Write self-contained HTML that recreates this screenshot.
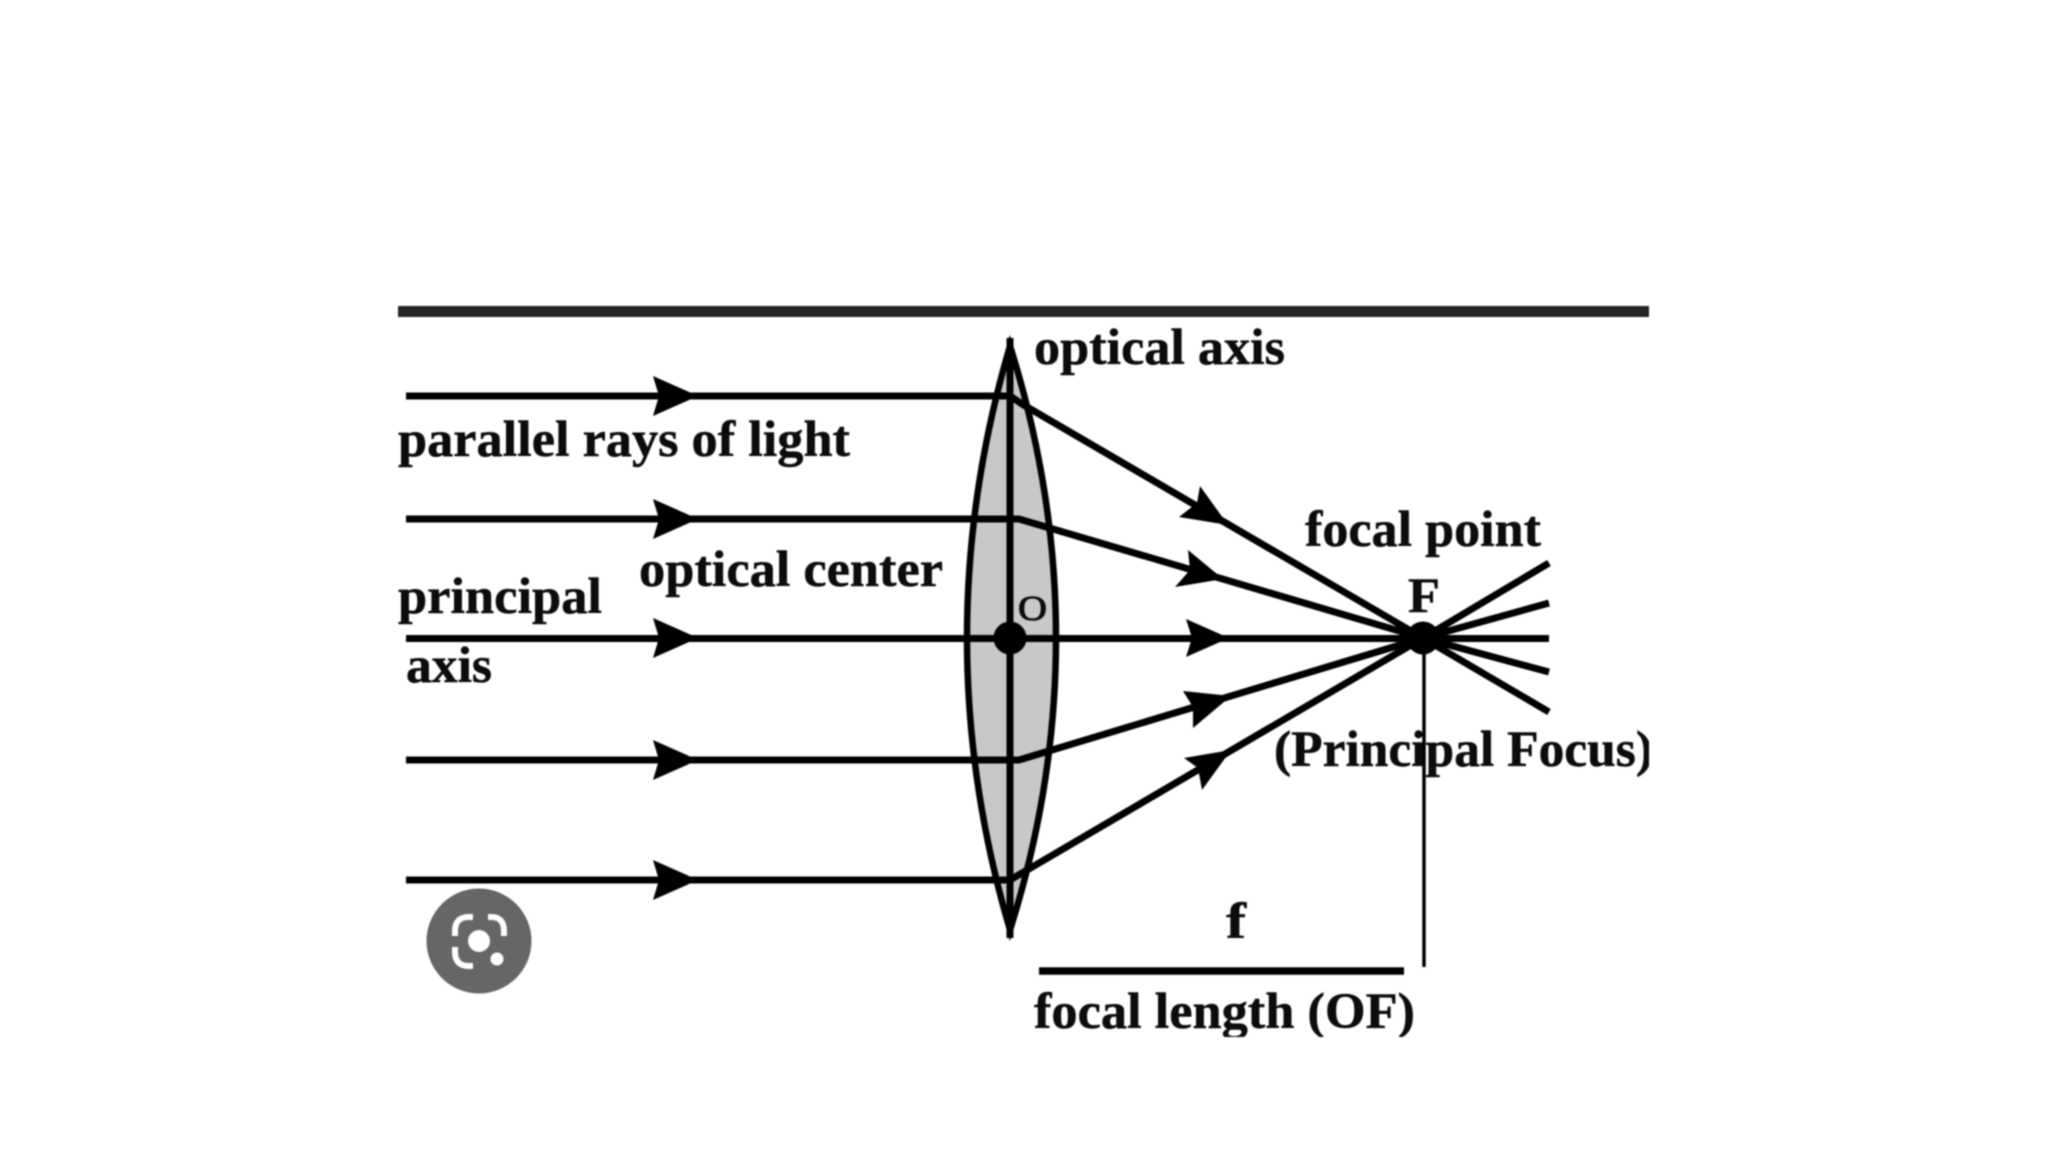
<!DOCTYPE html>
<html>
<head>
<meta charset="utf-8">
<style>
html,body{margin:0;padding:0;background:#fff;width:2048px;height:1152px;overflow:hidden}
svg{display:block;filter:blur(0.7px)}
text{font-family:"Liberation Serif",serif;font-weight:bold;fill:#0c0c0c;stroke:#0c0c0c;stroke-width:0.5px;font-size:51px}
</style>
</head>
<body>
<svg width="2048" height="1152" viewBox="0 0 2048 1152" xmlns="http://www.w3.org/2000/svg">
<defs>
<clipPath id="c"><rect x="398" y="300" width="1251" height="737"/></clipPath>
</defs>
<rect width="2048" height="1152" fill="#fff"/>
<rect x="398" y="306" width="1251" height="11" fill="#222426"/>

<!-- lens -->
<path d="M1010 346 Q924 638 1010 930 Q1102 638 1010 346 Z" fill="#c8c8c8" stroke="#000" stroke-width="6.5" stroke-linejoin="miter"/>
<line x1="1010" y1="338" x2="1010" y2="938" stroke="#000" stroke-width="7"/>

<g stroke="#000" stroke-width="7" fill="none">
<line x1="406" y1="396" x2="1010" y2="396"/>
<line x1="406" y1="519" x2="1010" y2="519"/>
<line x1="406" y1="638.5" x2="1549" y2="638.5"/>
<line x1="406" y1="760" x2="1010" y2="760"/>
<line x1="406" y1="880" x2="1010" y2="880"/>
<path d="M1010 396 L1022 404 L1423 638 L1549 712"/>
<path d="M1010 519 L1019 519 L1423 638 L1549 672"/>
<path d="M1010 760 L1019 760 L1423 638 L1549 603"/>
<path d="M1010 880 L1022 873 L1423 638 L1549 563"/>
</g>

<!-- horizontal arrowheads -->
<g fill="#000">
<polygon points="698,396 653,376 659,396 653,416"/>
<polygon points="698,519 653,499 659,519 653,539"/>
<polygon points="698,638 653,618 659,638 653,658"/>
<polygon points="698,760 653,740 659,760 653,780"/>
<polygon points="698,880 653,860 659,880 653,900"/>
<polygon points="1229,638 1186,619 1192,638 1186,657"/>
<!-- diagonal arrowheads -->
<polygon points="1228,525 1200,486 1197,503 1179,517"/>
<polygon points="1223,579 1188,550 1190,570 1175,587"/>
<polygon points="1231,696 1183,691 1193,707 1193,728"/>
<polygon points="1231,750 1184,758 1198,768 1202,790"/>
</g>

<!-- dots -->
<circle cx="1010" cy="638" r="16.5" fill="#000"/>
<circle cx="1423" cy="638" r="16.5" fill="#000"/>

<!-- focal guide lines -->
<line x1="1424" y1="638" x2="1424" y2="967" stroke="#000" stroke-width="3.5"/>
<line x1="1039" y1="971" x2="1404" y2="971" stroke="#000" stroke-width="7.5"/>

<!-- labels -->
<g clip-path="url(#c)">
<text x="398" y="456" textLength="452" lengthAdjust="spacingAndGlyphs">parallel rays of light</text>
<text x="639" y="586" textLength="304" lengthAdjust="spacingAndGlyphs">optical center</text>
<text x="398" y="613" textLength="204" lengthAdjust="spacingAndGlyphs">principal</text>
<text x="406" y="682" textLength="86" lengthAdjust="spacingAndGlyphs">axis</text>
<text x="1034" y="364" textLength="251" lengthAdjust="spacingAndGlyphs">optical axis</text>
<text x="1305" y="546" textLength="236" lengthAdjust="spacingAndGlyphs">focal point</text>
<text x="1408" y="612" textLength="32" lengthAdjust="spacingAndGlyphs" style="font-size:50px">F</text>
<text x="1274" y="766" textLength="379" lengthAdjust="spacingAndGlyphs">(Principal Focus)</text>
<text x="1018" y="620" textLength="29" lengthAdjust="spacingAndGlyphs" style="font-size:35px;font-weight:normal;stroke-width:1px">O</text>
<text x="1226" y="938" textLength="20" lengthAdjust="spacingAndGlyphs">f</text>
<text x="1034" y="1028" textLength="381" lengthAdjust="spacingAndGlyphs">focal length (OF)</text>
</g>

<!-- lens badge -->
<circle cx="479" cy="941" r="52.5" fill="#666"/>
<g fill="none" stroke="#fff" stroke-width="6">
<path d="M473 917 H469 Q455 917 455 931 V936"/>
<path d="M488 917 H491 Q504 917 504 931 V936"/>
<path d="M455 947 V952 Q455 966 469 966 H473"/>
</g>
<circle cx="479" cy="941" r="11" fill="#fff"/>
<circle cx="497" cy="959" r="6.5" fill="#fff"/>
</svg>
</body>
</html>
